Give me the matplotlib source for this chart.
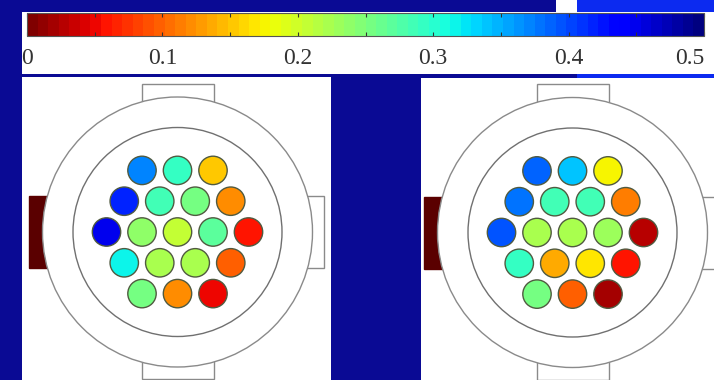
import numpy as np
import matplotlib
matplotlib.use("Agg")
import matplotlib.pyplot as plt
from matplotlib.patches import Circle, Rectangle
from matplotlib.colors import Normalize
from matplotlib.cm import ScalarMappable

# ---- data -------------------------------------------------------------
row_counts = [3, 4, 5, 4, 3]
left_values = [
    [0.368, 0.290, 0.155],
    [0.415, 0.285, 0.250, 0.120],
    [0.452, 0.240, 0.208, 0.266, 0.055],
    [0.315, 0.225, 0.225, 0.100],
    [0.255, 0.120, 0.048],
]
right_values = [
    [0.385, 0.340, 0.178],
    [0.380, 0.285, 0.282, 0.115],
    [0.395, 0.225, 0.222, 0.230, 0.025],
    [0.295, 0.140, 0.165, 0.055],
    [0.250, 0.100, 0.018],
]
cbar_ticks = [0, 0.1, 0.2, 0.3, 0.4, 0.5]
cbar_tick_labels = ["0", "0.1", "0.2", "0.3", "0.4", "0.5"]
vmin, vmax = 0.0, 0.5

# ---- style ------------------------------------------------------------
W, H = 714, 380
bg = "#0a0a94"
cmap = plt.get_cmap("jet_r", 64)
norm = Normalize(vmin, vmax)
outline = "#8a8a8a"

fig = plt.figure(figsize=(W / 100, H / 100), dpi=100, facecolor=bg)
ax = fig.add_axes([0, 0, 1, 1])
ax.set_xlim(0, W)
ax.set_ylim(H, 0)
ax.axis("off")
ax.set_facecolor(bg)

# slide panels
ax.add_patch(Rectangle((22, 12), W - 22, 62, facecolor="white", edgecolor="none", zorder=0))
ax.add_patch(Rectangle((556, 0), 21, 12, facecolor="white", edgecolor="none", zorder=0))
ax.add_patch(Rectangle((577, 0), W - 577, 12, facecolor="#0c2af0", edgecolor="none", zorder=0))
ax.add_patch(Rectangle((577, 74), W - 577, 4, facecolor="#0c2af0", edgecolor="none", zorder=0))
ax.add_patch(Rectangle((22, 77), 309, H - 77, facecolor="white", edgecolor="none", zorder=0))
ax.add_patch(Rectangle((421, 78), W - 421, H - 78, facecolor="white", edgecolor="none", zorder=0))


def draw_head(cx, cy, values):
    R_out, R_in = 135, 104.5
    # nose / back rectangles
    ax.add_patch(Rectangle((cx - 36, 84), 72, cy - 84, facecolor="white",
                           edgecolor=outline, lw=1.0, zorder=1))
    ax.add_patch(Rectangle((cx - 36, cy), 72, 147, facecolor="white",
                           edgecolor=outline, lw=1.0, zorder=1))
    # ears
    ax.add_patch(Rectangle((cx - 148.5, cy - 36), 40, 72, facecolor="#5a0000",
                           edgecolor="#5a0000", lw=1.0, zorder=1))
    ax.add_patch(Rectangle((cx + 100, cy - 36), 46.5, 72, facecolor="white",
                           edgecolor=outline, lw=1.0, zorder=1))
    ax.add_patch(Circle((cx, cy), R_out, facecolor="white", edgecolor=outline,
                        lw=1.0, zorder=2))
    ax.add_patch(Circle((cx, cy), R_in, facecolor="none", edgecolor="#707070",
                        lw=1.0, zorder=3))
    dx, dy = 35.5, 30.8
    for i, (n, row) in enumerate(zip(row_counts, values)):
        y = cy + (i - 2) * dy
        for j, v in enumerate(row):
            x = cx + (j - (n - 1) / 2) * dx
            ax.add_patch(Circle((x, y), 14.2, facecolor=cmap(norm(v)),
                                edgecolor="#505a40", lw=1.0, zorder=4))


draw_head(177.5, 232, left_values)
draw_head(572.5, 232.5, right_values)

# colorbar
cax = fig.add_axes([27 / W, 1 - 36 / H, 677 / W, 23 / H])
sm = ScalarMappable(norm=norm, cmap=cmap)
cb = fig.colorbar(sm, cax=cax, orientation="horizontal")
cb.outline.set_edgecolor("#555555")
cb.outline.set_linewidth(0.8)
cb.set_ticks(cbar_ticks)
cb.set_ticklabels(cbar_tick_labels)
cax.xaxis.set_minor_locator(matplotlib.ticker.MultipleLocator(0.05))
cax.tick_params(axis="x", which="both", direction="in", top=True, bottom=True,
                length=3, width=0.8, color="#333333", pad=9)
cax.tick_params(axis="x", which="major", labelsize=17, labelcolor="#333333")
labels = cax.get_xticklabels()
for lab in labels:
    lab.set_fontfamily("Liberation Serif")
labels[-1].set_horizontalalignment("right")

fig.savefig("out.png", dpi=100, facecolor=bg)
